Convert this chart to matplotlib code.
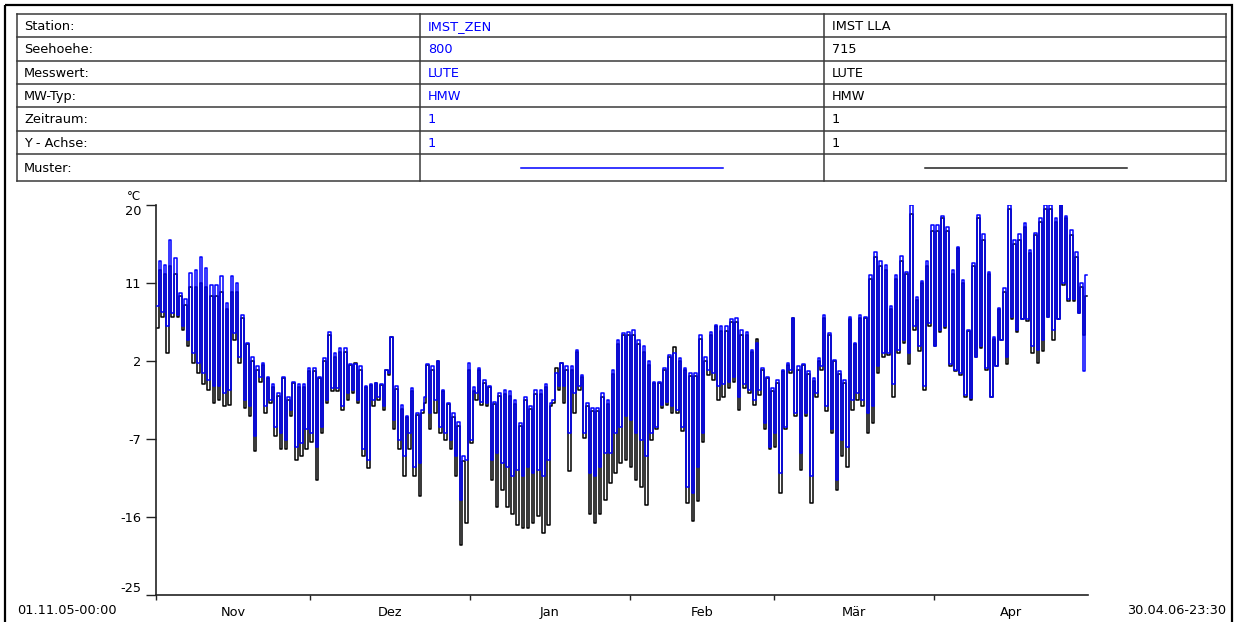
import numpy as np
import matplotlib
matplotlib.use("Agg")
import matplotlib.pyplot as plt
from matplotlib.patches import Rectangle

W, H = 1237, 622

# header table
ROW_LABELS = ["Station:", "Seehoehe:", "Messwert:", "MW-Typ:", "Zeitraum:", "Y - Achse:", "Muster:"]
ZEN_INFO = ["IMST_ZEN", "800", "LUTE", "HMW", "1", "1"]
LLA_INFO = ["IMST LLA", "715", "LUTE", "HMW", "1", "1"]

MONTHS = ["Nov", "Dez", "Jan", "Feb", "Mär", "Apr"]
MONTH_DAYS = [30, 31, 31, 28, 31, 30]
Y_TICKS = [20, 11, 2, -7, -16, -25]
START_LABEL = "01.11.05-00:00"
END_LABEL = "30.04.06-23:30"

# daily extremes (°C), 01.11.05 .. 30.04.06
ZEN_MAX = [
    13.5, 13.1, 16.0, 13.9, 9.8, 9.1, 12.1, 12.5, 14.0, 12.7, 10.8, 10.8, 11.8, 8.7, 11.8,
    11.0, 7.3, 4.1, 2.5, 1.4, 1.8, 0.2, -0.7, -1.7, 0.2, -2.1, -0.4, -0.7, -0.7, 1.2,
    1.2, 0.2, 2.3, 5.4, 2.9, 3.5, 3.5, 1.6, 1.6, 1.4, -0.9, -0.6, -0.5, -0.6, 1.0, 4.8,
    -0.9, -3.1, -4.4, -1.1, -4.0, -3.6, 1.6, 1.4, 2.0, -1.3, -2.9, -4.0, -5.0, -9.0, 1.8,
    -1.0, 1.2, -0.2, -0.9, -2.7, -1.7, -1.3, -1.5, -2.5, -5.2, -2.1, -3.2, -1.3, -1.3, -0.7,
    -2.9, 0.6, 1.8, 1.4, 1.4, 3.3, 0.4, -2.9, -3.4, -3.4, -1.7, -2.5, 1.0, 4.4, 5.2, 5.4,
    5.6, 4.4, 3.7, 2.0, -0.4, -0.4, 1.2, 2.7, 2.9, 2.3, 1.2, 0.6, 0.6, 5.0, 2.5, 5.4, 6.2,
    6.0, 6.0, 6.8, 7.0, 5.6, 5.4, 3.3, 4.1, 1.2, 0.2, -1.1,
    -0.2, 1.0, 1.8, 7.0, 1.4, 1.6, 0.8, 0.0, 2.3, 7.3, 5.2, 2.1, 0.8, -0.2, 7.1, 4.1, 7.3,
    7.1, 11.9, 14.6, 13.5, 13.1, 8.3, 11.9, 14.1, 12.3, 20.0, 9.4, 11.2, 13.5, 17.7,
    17.7, 18.7, 17.5, 12.5, 15.2, 11.4, 5.6, 13.3, 18.9, 16.6, 12.3, 4.8, 8.1, 10.4, 20.0,
    16.0, 16.6, 17.9, 14.8, 16.8, 18.5, 20.0, 20.0, 18.5, 20.0, 18.7, 17.1, 14.6, 11.0, 11.9,
]
ZEN_MIN = [
    8.3, 7.7, 6.0, 7.5, 7.3, 6.0, 4.4, 2.9, 1.8, 0.6, -0.2, -0.9, -0.9, -1.7, -1.3,
    5.2, 2.5, -2.5, -3.2, -6.7, 0.2, -3.2, -2.5, -5.6, -6.3, -7.1, -3.6, -7.9, -7.5, -5.9,
    -6.3, -7.9, -5.6, -2.5, -1.1, -1.1, -3.2, -1.7, -1.3, -2.5, -8.1, -9.4, -2.5, -2.1, -3.2,
    0.6, -4.8, -7.1, -9.0, -6.3, -10.2, -9.8, -2.1, -4.0, -2.5, -5.6, -6.3, -7.1, -9.0, -14.0, -9.4,
    -7.1, -1.7, -2.7, -2.9, -9.4, -8.6, -9.8, -10.2, -11.3, -10.6, -11.3, -10.2, -10.9, -10.6, -11.3,
    -9.4, -2.5, -0.9, -0.9, -6.3, -1.7, -0.9, -6.3, -10.9, -11.3, -10.2, -8.6, -8.6, -6.3, -5.6, -4.4,
    -4.8, -6.3, -7.1, -9.0, -6.3, -5.6, -3.1, -2.7, -3.2, -3.6, -5.6, -12.5, -13.2, -10.2, -6.3,
    1.0, 0.6, -0.9, -0.6, -0.4, 0.2, -2.1, -0.6, -1.3, -2.5, -1.3, -5.2, -7.9,
    -6.3, -10.9, -5.6, 1.0, -4.0, -8.6, -4.0, -11.3, -1.7, 1.4, -3.2, -5.9, -11.7, -7.1, -7.9,
    -2.5, -1.7, -2.5, -4.0, -3.2, 1.4, 2.9, 2.9, -0.6, 3.3, 4.4, 2.9, 6.0, 3.7, -0.9, 6.4,
    3.7, 5.6, 6.0, 1.6, 1.0, 0.6, -1.9, -2.3, 2.5, 3.7, 1.2, -2.1, 1.4, 4.4, 2.5,
    7.1, 5.6, 6.8, 6.8, 3.7, 3.3, 4.4, 7.1, 5.6, 6.8, 11.0, 9.1, 9.1, 7.5, 0.8,
]
LLA_MAX = [
    12.5, 12.0, 13.0, 12.0, 9.5, 8.5, 10.5, 10.5, 11.0, 10.5, 9.5, 9.5, 10.0, 8.0, 10.0,
    10.0, 7.0, 4.0, 2.0, 1.0, 1.5, 0.0, -1.0, -2.0, 0.0, -2.5, -0.5, -1.0, -1.0, 0.8,
    0.8, 0.0, 2.0, 5.0, 2.5, 3.0, 3.0, 1.5, 1.8, 1.0, -1.0, -0.8, -0.5, -0.8, 1.0, 4.8,
    -1.2, -3.5, -4.5, -1.5, -4.2, -4.0, 1.5, 1.0, 2.0, -1.5, -3.0, -4.5, -5.5, -9.5, 1.0,
    -1.5, 1.0, -0.5, -1.0, -3.0, -2.0, -1.8, -2.0, -3.0, -5.5, -2.5, -3.5, -1.8, -1.8, -1.0,
    -3.2, 1.2, 1.8, 1.0, 1.0, 3.0, 0.2, -3.2, -3.8, -3.8, -2.2, -3.0, 0.5, 4.0, 5.0, 5.0,
    5.0, 4.0, 3.0, 1.5, -0.5, -0.5, 1.0, 2.5, 3.6, 2.0, 1.0, 0.3, 0.3, 4.5, 2.0, 5.0, 6.0,
    5.5, 5.5, 6.5, 6.5, 5.0, 5.0, 3.0, 4.5, 1.0, 0.0, -1.5,
    -0.5, 0.8, 1.5, 7.0, 1.0, 1.5, 0.5, -0.3, 2.0, 7.0, 5.0, 2.0, 0.5, -0.5, 6.8, 4.0, 7.0,
    7.0, 11.5, 14.0, 13.0, 12.5, 8.0, 11.5, 13.5, 12.0, 19.0, 9.0, 11.0, 13.0, 17.0,
    17.0, 18.5, 17.0, 12.0, 15.0, 11.0, 5.5, 13.0, 18.5, 16.0, 12.0, 4.5, 8.0, 10.0, 19.5,
    15.5, 16.0, 17.5, 14.5, 16.5, 18.0, 19.5, 19.5, 18.0, 20.0, 18.5, 16.5, 14.0, 10.5, 9.5,
]
LLA_MIN = [
    5.8, 7.1, 2.9, 7.1, 7.1, 5.6, 3.7, 1.8, 0.6, -0.6, -1.3, -2.9, -2.5, -3.2, -3.1,
    4.4, 1.8, -3.4, -4.4, -8.4, -0.4, -4.0, -2.9, -6.7, -8.2, -8.2, -4.4, -9.4, -9.0, -8.2,
    -7.3, -11.7, -6.3, -2.9, -1.5, -1.5, -3.6, -2.5, -1.7, -2.9, -9.0, -10.4, -3.2, -2.5, -3.6,
    0.4, -5.9, -8.1, -11.3, -8.2, -11.3, -13.6, -2.9, -5.9, -4.0, -6.3, -7.1, -8.2, -11.3, -19.2, -16.7,
    -7.5, -2.5, -3.1, -3.2, -11.7, -14.8, -12.9, -14.8, -15.7, -16.9, -17.3, -17.3, -16.7, -15.9, -17.9,
    -16.9, -2.9, -1.3, -2.9, -10.7, -4.0, -1.3, -6.9, -15.7, -16.7, -15.6, -14.0, -12.1, -10.9, -9.8, -9.4,
    -10.2, -11.7, -12.5, -14.6, -7.1, -5.9, -3.4, -3.1, -4.0, -4.0, -6.1, -14.4, -16.5, -14.2, -7.3,
    0.4, -0.2, -2.5, -2.1, -1.1, -0.4, -3.6, -1.1, -1.7, -3.1, -1.9, -5.9, -8.1,
    -7.9, -13.2, -5.9, 0.6, -4.4, -10.6, -4.4, -14.4, -2.1, 1.0, -3.8, -6.3, -12.9, -9.0, -10.2,
    -3.6, -2.5, -3.2, -6.3, -5.2, 0.6, 2.5, 2.7, -2.1, 2.9, 4.1, 1.6, 5.6, 3.1, -1.3, 6.0,
    3.7, 5.4, 5.8, 1.4, 0.8, 0.4, -2.1, -2.5, 2.5, 3.5, 1.0, -2.1, 1.4, 4.4, 1.6,
    6.9, 5.4, 6.8, 6.6, 2.9, 1.8, 3.1, 7.1, 4.4, 6.8, 10.8, 8.9, 8.9, 7.5, 5.0,
]

BLUE = "#0000ff"
GRID = "#3a3a3a"
FONT = "DejaVu Sans"
FS = 9.3

plt.rcParams["font.family"] = [FONT]


def diurnal(tmin, tmax):
    # night minimum, afternoon maximum for each day
    n = len(tmin)
    t = np.empty(2 * n)
    v = np.empty(2 * n)
    t[0::2] = np.arange(n) + 0.25
    t[1::2] = np.arange(n) + 0.75
    v[0::2] = tmin
    v[1::2] = tmax
    return t, v


fig = plt.figure(figsize=(W / 100, H / 100), dpi=100)
fig.patch.set_facecolor("white")

# ---- overlay in pixel coordinates: frame + header table ----
ov = fig.add_axes([0, 0, 1, 1])
ov.set_xlim(0, W)
ov.set_ylim(H, 0)
ov.axis("off")

ov.add_patch(Rectangle((5, 5), 1227, 640, fill=False, lw=1.6, ec="black"))

row_y = [14, 37.3, 61, 84.3, 107.3, 131, 154.3, 181]
col_x = [17, 420, 824, 1226]
for y in row_y:
    ov.plot([col_x[0], col_x[-1]], [y, y], color=GRID, lw=1.1, solid_capstyle="projecting")
for x in col_x:
    ov.plot([x, x], [row_y[0], row_y[-1]], color=GRID, lw=1.1, solid_capstyle="projecting")

for i, lab in enumerate(ROW_LABELS):
    yc = (row_y[i] + row_y[i + 1]) / 2 + 0.5
    ov.text(24, yc, lab, fontsize=FS, va="center", ha="left", color="black")
    if i < len(ZEN_INFO):
        ov.text(428, yc, ZEN_INFO[i], fontsize=FS, va="center", ha="left", color=BLUE)
        ov.text(832, yc, LLA_INFO[i], fontsize=FS, va="center", ha="left", color="black")

ym = (row_y[6] + row_y[7]) / 2
ov.plot([521, 723], [ym, ym], color=BLUE, lw=1.1)
ov.plot([925, 1127], [ym, ym], color="#222222", lw=1.1)

ov.text(17, 610, START_LABEL, fontsize=FS, va="center", ha="left")
ov.text(1226, 610, END_LABEL, fontsize=FS, va="center", ha="right")
ov.text(141, 197, "°C", fontsize=FS - 0.8, va="center", ha="right")

# ---- time series axes ----
ax = fig.add_axes([156 / W, (H - 595) / H, 932 / W, 390 / H])
ax.patch.set_alpha(0)

t_lla, v_lla = diurnal(LLA_MIN, LLA_MAX)
t_zen, v_zen = diurnal(ZEN_MIN, ZEN_MAX)
ax.plot(t_lla, v_lla, color="black", lw=1.1, drawstyle="steps-mid", zorder=2)
ax.plot(t_zen, v_zen, color=BLUE, lw=1.1, drawstyle="steps-mid", zorder=3)

n_days = sum(MONTH_DAYS)
ax.set_xlim(0, n_days)
ax.set_ylim(-25, 20)

for side in ("top", "right"):
    ax.spines[side].set_visible(False)
for side in ("left", "bottom"):
    ax.spines[side].set_color("#222222")
    ax.spines[side].set_linewidth(1.2)

ax.set_yticks(Y_TICKS, labels=[str(v) for v in Y_TICKS])
ax.tick_params(axis="y", length=7.5, width=1.0, color="#222222", pad=3, labelsize=FS)
for tk in ax.yaxis.get_major_ticks():
    txt = tk.label1.get_text()
    if txt == "20":
        tk.label1.set_verticalalignment("top")
    elif txt == "-25":
        tk.label1.set_verticalalignment("bottom")

bounds = np.concatenate([[0], np.cumsum(MONTH_DAYS)])
ax.set_xticks(bounds[:-1])
ax.set_xticklabels([])
ax.set_xticks((bounds[:-1] + bounds[1:]) / 2, labels=MONTHS, minor=True)
ax.tick_params(axis="x", which="major", length=3.5, width=1.0, color="#222222")
ax.tick_params(axis="x", which="minor", length=0, pad=8, labelsize=FS)

fig.savefig("out.png", dpi=100, facecolor="white")
